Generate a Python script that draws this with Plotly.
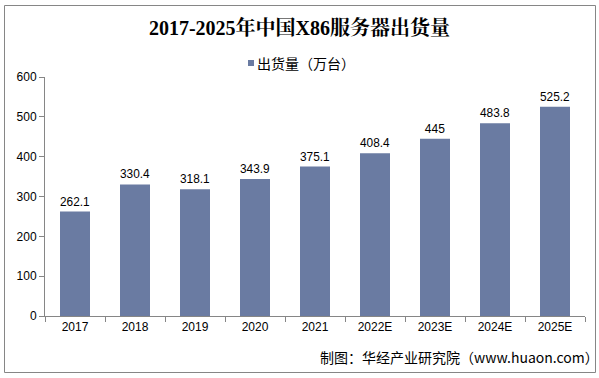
import plotly.graph_objects as go

years = ["2017", "2018", "2019", "2020", "2021", "2022E", "2023E", "2024E", "2025E"]
shipments = [262.1, 330.4, 318.1, 343.9, 375.1, 408.4, 445, 483.8, 525.2]
labels = ["262.1", "330.4", "318.1", "343.9", "375.1", "408.4", "445", "483.8", "525.2"]

W, H = 599, 378
L, R, T, B = 45, 14, 77, 62
pw, ph = W - L - R, H - T - B

def px(x):
    return (x - L) / pw

def py(y):
    return (H - B - y) / ph

fig = go.Figure(go.Bar(
    x=years, y=shipments, text=labels, textposition="outside",
    textfont=dict(size=12, color="#000000"),
    marker=dict(color="#6A7BA2", line=dict(width=0)),
    name="出货量（万台）", cliponaxis=False, showlegend=False,
))

fig.update_layout(
    width=W, height=H,
    margin=dict(l=L, r=R, t=T, b=B, autoexpand=False),
    paper_bgcolor="white", plot_bgcolor="white",
    font=dict(family="Liberation Sans, Arial, Noto Sans CJK SC", size=12, color="#000"),
    bargap=0.5,
    showlegend=False,
    title=dict(text="<b>2017-2025年中国X86服务器出货量</b>", x=0.5, xanchor="center",
               y=1 - 28 / H, yanchor="middle",
               font=dict(family="Liberation Serif, Noto Serif CJK SC, Noto Sans CJK SC", size=20, color="#000")),
    xaxis=dict(type="category", showline=True, linecolor="#868686", linewidth=1,
               ticks="outside", tickson="boundaries", ticklen=5, tickcolor="#868686",
               showgrid=False, tickfont=dict(size=12), automargin=False),
    yaxis=dict(range=[0, 600], dtick=100, showline=True, linecolor="#868686", linewidth=1,
               ticks="outside", ticklen=5, tickcolor="#868686", showgrid=False,
               tickfont=dict(size=12), zeroline=False, automargin=False),
    shapes=[
        dict(type="rect", xref="paper", yref="paper",
             x0=px(4.5), x1=px(595.5), y0=py(372.5), y1=py(5.5),
             line=dict(color="#868686", width=1), fillcolor="rgba(0,0,0,0)", layer="below"),
        dict(type="rect", xref="paper", yref="paper",
             x0=px(248), x1=px(254), y0=py(66), y1=py(60),
             line=dict(width=0), fillcolor="#6A7BA2"),
    ],
    annotations=[
        dict(text="出货量（万台）", xref="paper", yref="paper", x=px(255), y=py(63),
             xanchor="left", yanchor="middle", showarrow=False,
             font=dict(family="Noto Sans CJK SC", size=14, color="#000")),
        dict(text="制图：华经产业研究院（www.huaon.com）", xref="paper", yref="paper",
             x=px(318), y=py(357), xanchor="left", yanchor="middle", showarrow=False,
             font=dict(family="Noto Sans CJK SC", size=14, color="#000")),
    ],
)

fig.write_html("out.html", config={"displayModeBar": False},
               post_script="document.body.style.margin='0';document.body.style.overflow='hidden';")
